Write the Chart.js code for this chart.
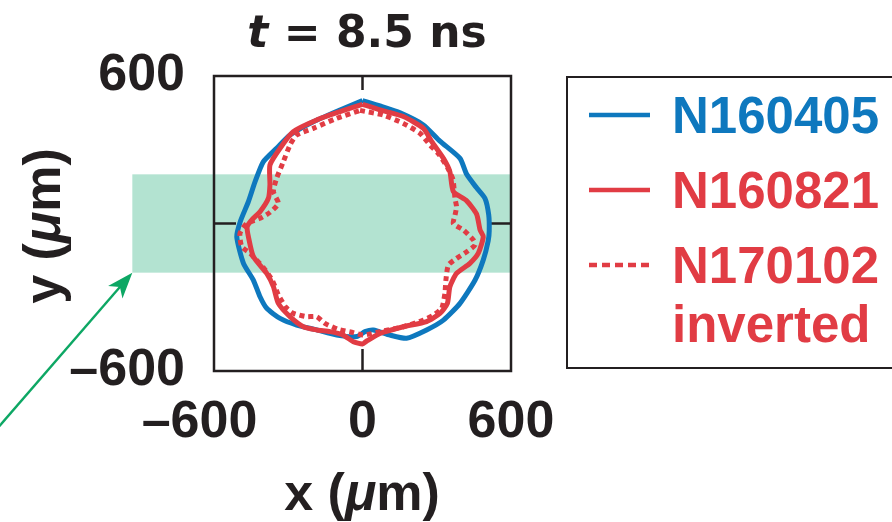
<!DOCTYPE html>
<html>
<head>
<meta charset="utf-8">
<script src="https://cdn.jsdelivr.net/npm/chart.js@4/dist/chart.umd.min.js"></script>
<style>
  html, body { margin: 0; padding: 0; background: #fff; overflow: hidden; }
  #wrap { width: 892px; height: 522px; position: relative; }
</style>
</head>
<body>
<div id="wrap"><canvas id="c" width="892" height="522"></canvas></div>
<script>
// Axis ticks (µm)
const xTicks = [-600, 0, 600];
const yTicks = [-600, 0, 600];

// Shot names and legend wording
const shotNames = ['N160405', 'N160821', 'N170102'];
const legendLines = [['N160405'], ['N160821'], ['N170102', 'inverted']];

// Highlighted equatorial band (µm)
const bandX = [-930, 600];
const bandY = [-200, 200];

// Shell contour N160405 (closed, clockwise from the top)
const n160405X = [0, 71, 152, 246, 313, 394, 421, 461, 495, 510, 512, 508, 488, 455, 394, 327, 259, 178, 111, 44, 10, -23, -104, -185, -266, -333, -387, -414, -441, -481, -508, -493, -461, -434, -401, -347, -293, -199, -91, 0];
const n160405Y = [500, 478, 450, 401, 335, 265, 200, 145, 102, 35, -30, -70, -148, -230, -325, -393, -433, -467, -454, -433, -440, -460, -454, -433, -413, -386, -345, -298, -230, -162, -54, 10, 89, 170, 251, 306, 360, 414, 462, 500];

// Shell contour N160821
const n160821X = [0, 71, 165, 246, 280, 327, 353, 367, 421, 461, 475, 488, 468, 434, 380, 353, 343, 313, 259, 165, 71, 17, 0, -37, -78, -131, -185, -239, -293, -340, -360, -387, -441, -461, -466, -448, -414, -380, -374, -374, -333, -280, -185, -91, 0];
const n160821Y = [485, 462, 435, 387, 333, 265, 211, 130, 92, 38, -26, -54, -121, -162, -203, -257, -325, -366, -399, -420, -447, -478, -490, -481, -454, -440, -433, -420, -379, -325, -257, -203, -135, -54, -13, 14, 48, 103, 157, 238, 306, 373, 421, 455, 485];

// Shell contour N170102, inverted
const n170102X = [-10, 84, 165, 232, 273, 310, 345, 365, 370, 374, 380, 374, 367, 407, 448, 455, 421, 380, 347, 337, 333, 320, 286, 246, 165, 71, 3, -37, -100, -152, -185, -226, -280, -310, -340, -365, -400, -441, -454, -488, -495, -468, -414, -374, -340, -360, -347, -320, -293, -266, -199, -104, -10];
const n170102Y = [460, 441, 407, 367, 319, 280, 225, 180, 140, 100, 68, 35, 0, -26, -67, -87, -115, -142, -169, -230, -284, -345, -373, -393, -420, -440, -454, -444, -430, -406, -379, -379, -365, -340, -290, -230, -180, -135, -121, -94, -40, 0, 21, 45, 82, 129, 184, 251, 319, 360, 387, 428, 460];

const SANS = '"Liberation Sans", Arial, Helvetica, sans-serif';
const WIDE = '"DejaVu Sans", sans-serif';
const INK = '#231F20';
const BLUE = '#0E78BE';
const RED = '#E13C44';
const MINT = '#B3E3D1';
const GREEN = '#0DA764';

function toPoints(xs, ys) { return xs.map((v, i) => ({ x: v, y: ys[i] })); }
function fmt(v) { return v < 0 ? '\u2013' + (-v) : String(v); }

// Draw a row of differently styled text runs centred on cx
function drawRuns(ctx, runs, cx, baseY) {
  let total = 0;
  runs.forEach(r => { ctx.font = r.f; r.w = ctx.measureText(r.t).width; total += r.w; });
  let x = cx - total / 2;
  ctx.textAlign = 'left';
  ctx.textBaseline = 'alphabetic';
  runs.forEach(r => { ctx.font = r.f; ctx.fillText(r.t, x, baseY); x += r.w; });
}

const decor = {
  id: 'decor',
  beforeDatasetsDraw(chart) {
    const { ctx, chartArea: a, scales: { x, y } } = chart;
    ctx.save();
    // equatorial band
    const bx0 = x.getPixelForValue(bandX[0]), bx1 = x.getPixelForValue(bandX[1]);
    const byTop = y.getPixelForValue(bandY[1]), byBot = y.getPixelForValue(bandY[0]);
    ctx.fillStyle = MINT;
    ctx.fillRect(bx0, byTop, bx1 - bx0, byBot - byTop);

    // pointer arrow to the band corner
    const tipX = bx0, tipY = byBot;
    const dx = -0.655, dy = 0.756;
    ctx.strokeStyle = GREEN; ctx.fillStyle = GREEN; ctx.lineWidth = 2.4;
    ctx.beginPath();
    ctx.moveTo(tipX + dx * 15, tipY + dy * 15);
    ctx.lineTo(tipX + dx * 240, tipY + dy * 240);
    ctx.stroke();
    const hl = 26, hw = 9.5, px = -dy, py = dx;
    ctx.beginPath();
    ctx.moveTo(tipX, tipY);
    ctx.lineTo(tipX + dx * hl + px * hw, tipY + dy * hl + py * hw);
    ctx.lineTo(tipX + dx * (hl - 7), tipY + dy * (hl - 7));
    ctx.lineTo(tipX + dx * hl - px * hw, tipY + dy * hl - py * hw);
    ctx.closePath();
    ctx.fill();

    // frame
    ctx.strokeStyle = INK; ctx.lineWidth = 2.5;
    ctx.strokeRect(a.left, a.top, a.right - a.left, a.bottom - a.top);

    // inward ticks at zero
    const x0 = x.getPixelForValue(0), y0 = y.getPixelForValue(0);
    ctx.beginPath();
    ctx.moveTo(x0, a.top); ctx.lineTo(x0, a.top + 14);
    ctx.moveTo(x0, a.bottom); ctx.lineTo(x0, a.bottom - 22);
    ctx.moveTo(a.left, y0); ctx.lineTo(a.left + 22, y0);
    ctx.moveTo(a.right, y0); ctx.lineTo(a.right - 20, y0);
    ctx.stroke();
    ctx.restore();
  },
  afterDraw(chart) {
    const { ctx, scales: { x } } = chart;
    ctx.save();
    ctx.fillStyle = INK;

    // title
    drawRuns(ctx, [
      { t: 't', f: 'italic bold 44px ' + WIDE },
      { t: ' = 8.5 ns', f: 'bold 44px ' + WIDE }
    ], 367, 47);

    // x tick labels: digits centred on the tick, sign hanging left
    ctx.font = 'bold 52px ' + SANS;
    ctx.textBaseline = 'alphabetic';
    xTicks.forEach(v => {
      const p = x.getPixelForValue(v);
      const digits = String(Math.abs(v));
      const w = ctx.measureText(digits).width;
      ctx.textAlign = 'left';
      ctx.fillText(digits, p - w / 2, 437);
      if (v < 0) { ctx.textAlign = 'right'; ctx.fillText('\u2013', p - w / 2, 437); }
    });

    // axis titles
    drawRuns(ctx, [
      { t: 'x (', f: 'bold 52px ' + SANS },
      { t: '\u03BC', f: 'italic bold 52px ' + SANS },
      { t: 'm)', f: 'bold 52px ' + SANS }
    ], 362, 510);
    ctx.save();
    ctx.translate(60, 226);
    ctx.rotate(-Math.PI / 2);
    drawRuns(ctx, [
      { t: 'y (', f: 'bold 52px ' + SANS },
      { t: '\u03BC', f: 'italic bold 52px ' + SANS },
      { t: 'm)', f: 'bold 52px ' + SANS }
    ], 0, 0);
    ctx.restore();

    // legend
    ctx.strokeStyle = INK; ctx.lineWidth = 2;
    ctx.strokeRect(567, 77, 400, 291);
    const rows = [115, 190, 265];
    chart.data.datasets.forEach((ds, i) => {
      const yy = rows[i];
      ctx.strokeStyle = ds.borderColor; ctx.lineWidth = 4.5;
      ctx.setLineDash(ds.borderDash && ds.borderDash.length ? [8, 5] : []);
      ctx.beginPath(); ctx.moveTo(589, yy); ctx.lineTo(650, yy); ctx.stroke();
      ctx.setLineDash([]);
      ctx.fillStyle = ds.borderColor;
      ctx.font = 'bold 51px ' + SANS;
      ctx.textAlign = 'left'; ctx.textBaseline = 'alphabetic';
      legendLines[i].forEach((t, k) => ctx.fillText(t, 672, yy + 18 + k * 59));
    });
    ctx.restore();
  }
};

const lineStyle = { showLine: true, fill: false, pointRadius: 0, pointHoverRadius: 0, borderWidth: 5, tension: 0.2, borderJoinStyle: 'round' };

new Chart(document.getElementById('c'), {
  type: 'scatter',
  data: {
    datasets: [
      Object.assign({ label: shotNames[0], data: toPoints(n160405X, n160405Y), borderColor: BLUE, order: 3 }, lineStyle),
      Object.assign({ label: shotNames[1], data: toPoints(n160821X, n160821Y), borderColor: RED, order: 2 }, lineStyle),
      Object.assign({ label: shotNames[2] + ' inverted', data: toPoints(n170102X, n170102Y), borderColor: RED, borderDash: [5, 4], borderCapStyle: 'butt', order: 1 }, lineStyle)
    ]
  },
  options: {
    responsive: false,
    animation: false,
    events: [],
    layout: { padding: { left: 0, right: 381, top: 76, bottom: 71 } },
    plugins: { legend: { display: false }, tooltip: { enabled: false }, title: { display: false } },
    scales: {
      x: {
        type: 'linear', min: -600, max: 600,
        afterBuildTicks: s => { s.ticks = xTicks.map(v => ({ value: v })); },
        afterFit: s => { s.height = 80; },
        grid: { display: false }, border: { display: false },
        ticks: { display: false }
      },
      y: {
        type: 'linear', min: -600, max: 600,
        afterBuildTicks: s => { s.ticks = yTicks.map(v => ({ value: v })); },
        afterFit: s => { s.width = 214; },
        grid: { display: false }, border: { display: false },
        ticks: { padding: 21, color: INK, font: { family: SANS, weight: 'bold', size: 52 }, callback: v => fmt(v) }
      }
    }
  },
  plugins: [decor]
});
</script>
</body>
</html>
